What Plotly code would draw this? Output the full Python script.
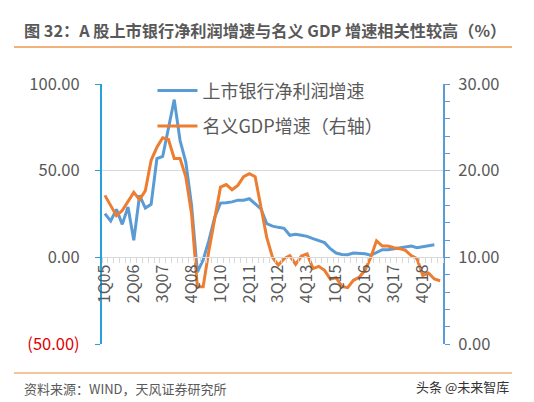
import plotly.graph_objects as go

quarters = [f"{q}Q{y:02d}" for y in range(5, 20) for q in range(1, 5)][:59]
label_every = 5
tick_text = [c if i % label_every == 0 else "" for i, c in enumerate(quarters)]

bank_profit_growth = [25.2, 21, 27.7, 19, 29, 9.8, 35.8, 28.4, 30.6, 57, 58.2, 75, 91, 67.5, 55, 30,
                      -8.5, -1.5, 9.8, 23, 31.3, 31.5, 32, 33, 33, 33.8, 31, 28, 19.5, 18, 17.3, 16.7,
                      12.7, 13.3, 12.7, 12.1, 10.8, 9.8, 8.5, 5, 2.5, 1.7, 1.5, 2.5, 2.5, 2.1, 1.2, 2.7,
                      4.4, 4.4, 5, 5.6, 6, 6.5, 5.6, 6.3, 6.9, 7.3, None]
nominal_gdp_growth = [17.15, 16, 14.8, 15.4, 16.4, 17.5, 16.65, 17.7, 21.2, 22.7, 23.8, 23.6, 21.4, 21.4,
                      19.3, 15, 6.6, 6.6, 10.8, 14.6, 18.1, 18.4, 17.8, 18.3, 19.3, 19.65, 19.3, 15.8,
                      12.3, 10, 9.1, 9.85, 10.2, 9.2, 10.15, 10.4, 8.7, 8.96, 8.5, 7.5, 7.65, 6.65, 6.5,
                      7.35, 7.7, 8.5, 10, 11.9, 11.3, 11.3, 11.1, 11, 10.8, 10.2, 9.85, 7.9, 8.2, 7.5, 7.3]

left_ticks = [-50, 0, 50, 100]
left_ticktext = ["<span style='color:#e00000'>(50.00)</span>", "0.00", "50.00", "100.00"]
right_ticks = [0, 10, 20, 30]
right_ticktext = ["0.00", "10.00", "20.00", "30.00"]

FONT = "Noto Sans CJK SC"
GRAY = "#595959"

fig = go.Figure()
fig.add_trace(go.Scatter(x=quarters, y=bank_profit_growth, name="上市银行净利润增速", mode="lines",
                         line=dict(color="#5b9bd5", width=3), legendgroup="a", yaxis="y"))
fig.add_trace(go.Scatter(x=quarters, y=nominal_gdp_growth, name="名义GDP增速（右轴）", mode="lines",
                         line=dict(color="#ed7d31", width=3), legendgroup="b", yaxis="y2"))

fig.update_layout(
    width=534, height=402,
    margin=dict(l=102, r=91, t=84, b=58),
    paper_bgcolor="white", plot_bgcolor="white",
    font=dict(family=FONT, color=GRAY, size=14),
    showlegend=True,
    legend=dict(x=0.148, y=1.045, xanchor="left", yanchor="top", bgcolor="rgba(0,0,0,0)",
                font=dict(size=18, color=GRAY), itemwidth=40, tracegroupgap=9,
                traceorder="grouped"),
    xaxis=dict(type="category", tickmode="array", tickvals=quarters, ticktext=tick_text,
               tickangle=-90, anchor="free", position=1/3, showline=True, linecolor="#d9d9d9",
               linewidth=1, ticks="outside", ticklen=5, tickcolor="#d9d9d9", tickson="boundaries",
               showgrid=False, tickfont=dict(size=16, color=GRAY), range=[-0.5, 58.5]),
    yaxis=dict(range=[-50, 100], tickmode="array", tickvals=left_ticks, ticktext=left_ticktext,
               showgrid=True, gridcolor="#d9d9d9", zeroline=False, showline=True,
               linecolor="#27a1dc", linewidth=2, ticks="outside", ticklen=5, tickcolor="#27a1dc",
               ticklabelstandoff=12, tickfont=dict(size=16.5, color=GRAY)),
    yaxis2=dict(range=[0, 30], overlaying="y", side="right", tickmode="array", tickvals=right_ticks,
                ticktext=right_ticktext, showgrid=False, zeroline=False, showline=True,
                linecolor="#5b9bd5", linewidth=2, ticks="outside", ticklen=5, tickcolor="#5b9bd5",
                minor=dict(dtick=2, ticks="outside", ticklen=5, tickcolor="#5b9bd5", showgrid=False),
                ticklabelstandoff=5, tickfont=dict(size=16.5, color=GRAY)),
)

def px_x(px):
    return (px - 102) / 341

def px_y(py):
    return (344 - py) / 260

fig.add_shape(type="line", xref="paper", yref="paper", x0=px_x(14), x1=px_x(512), y0=px_y(47), y1=px_y(47),
              line=dict(color="#f0b27a", width=2))
fig.add_shape(type="line", xref="paper", yref="paper", x0=px_x(14), x1=px_x(512), y0=px_y(373), y1=px_y(373),
              line=dict(color="#f0b27a", width=1.5))

fig.add_annotation(xref="paper", yref="paper", x=px_x(22), y=px_y(30), xanchor="left", yanchor="middle",
                   text="<b>图 32：A 股上市银行净利润增速与名义 GDP 增速相关性较高（%）</b>",
                   showarrow=False, font=dict(size=16.2, color=GRAY, family=FONT))
fig.add_annotation(xref="paper", yref="paper", x=px_x(22), y=px_y(388), xanchor="left", yanchor="middle",
                   text="资料来源：WIND，天风证券研究所", showarrow=False,
                   font=dict(size=13, color=GRAY, family=FONT))
fig.add_annotation(xref="paper", yref="paper", x=px_x(511), y=px_y(386), xanchor="right", yanchor="middle",
                   text="头条 @未来智库", showarrow=False,
                   font=dict(size=13, color="#333333", family=FONT))

fig.write_html("out.html", config={"displayModeBar": False},
               post_script="document.body.style.margin='0';document.body.style.overflow='hidden';")
